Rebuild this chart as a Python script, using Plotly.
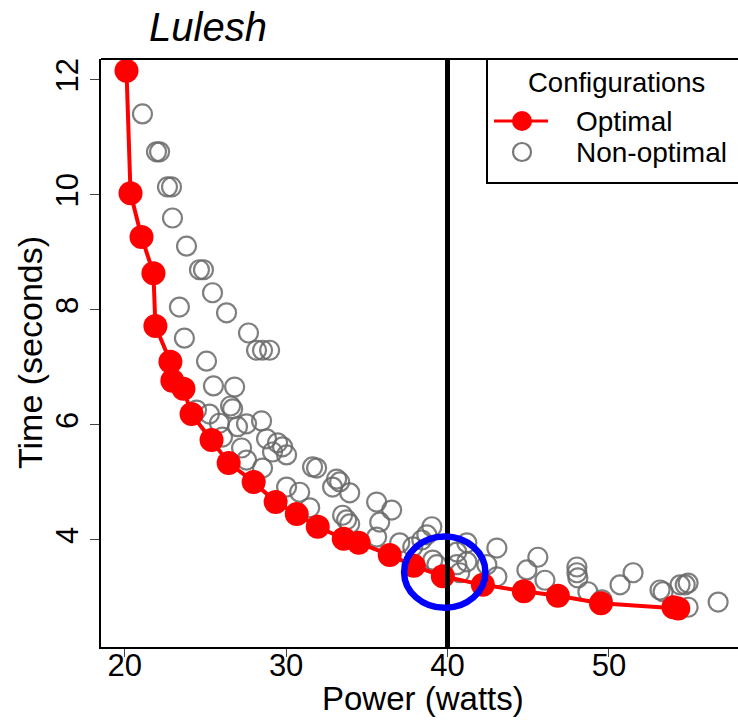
import plotly.graph_objects as go

# ---------------- data ----------------
opt_power = [20.11, 20.36, 21.04, 21.78, 21.90, 22.83, 22.95, 23.64, 24.14, 25.38,
             26.44, 27.99, 29.35, 30.66, 31.96, 33.57, 34.50, 36.42, 37.91, 39.71,
             42.19, 44.73, 46.84, 49.51, 54.00, 54.30]
opt_time = [12.16, 10.03, 9.27, 8.64, 7.72, 7.10, 6.77, 6.63, 6.19, 5.74,
            5.34, 5.01, 4.66, 4.45, 4.23, 4.02, 3.95, 3.74, 3.55, 3.37,
            3.22, 3.11, 3.03, 2.90, 2.83, 2.81]

non_power = [21.10, 21.97, 22.16, 22.65, 22.90, 22.96, 23.83, 24.63, 24.88, 25.44,
             23.39, 26.31, 23.70, 27.67, 28.17, 28.54, 28.98, 25.07, 25.50, 26.81,
             26.56, 26.69, 24.45, 25.25, 25.87, 26.99, 27.55, 28.48, 26.06, 27.24,
             28.79, 29.47, 29.78, 29.16, 30.03, 27.55, 28.54, 31.64, 31.89, 33.13,
             33.32, 32.88, 30.03, 30.84, 31.46, 33.94, 33.50, 33.75, 33.94, 35.61,
             36.54, 35.80, 35.61, 37.04, 37.85, 38.41, 39.03, 38.72, 39.09, 39.34,
             40.58, 41.20, 40.58, 41.20, 40.76, 43.06, 42.44, 43.06, 45.60, 44.92,
             46.04, 48.02, 48.02, 48.08, 48.70, 49.57, 50.69, 51.50, 53.17, 53.36,
             54.41, 54.73, 54.91, 54.91, 56.77]
non_time = [11.41, 10.75, 10.75, 10.14, 10.14, 9.60, 9.11, 8.70, 8.70, 8.30,
            8.05, 7.95, 7.51, 7.60, 7.30, 7.30, 7.30, 7.11, 6.68, 6.66,
            6.33, 6.28, 6.26, 6.19, 6.03, 5.97, 6.02, 6.07, 5.79, 5.60,
            5.76, 5.69, 5.62, 5.53, 5.48, 5.39, 5.25, 5.27, 5.25, 5.06,
            5.01, 4.92, 4.92, 4.83, 4.56, 4.82, 4.43, 4.35, 4.28, 4.66,
            4.52, 4.31, 4.05, 3.95, 3.88, 4.00, 4.23, 4.09, 3.65, 3.57,
            3.79, 3.95, 3.57, 3.62, 3.43, 3.86, 3.57, 3.36, 3.70, 3.48,
            3.30, 3.53, 3.43, 3.34, 3.10, 2.96, 3.22, 3.43, 3.13, 3.10,
            3.22, 3.22, 3.25, 2.83, 2.92]

x_ticks = [20, 30, 40, 50]
y_ticks = [4, 6, 8, 10, 12]
power_cap = 40
highlight_center = (39.83, 3.44)
highlight_radius = (2.52, 0.62)

title_text = "Lulesh"
x_title = "Power (watts)"
y_title = "Time (seconds)"
legend_title = "Configurations"
legend_labels = ["Optimal", "Non-optimal"]

# ---------------- layout geometry (pixels) ----------------
W, H = 738, 720
L, R, T, B = 101, 738, 59, 647
FONT = "Liberation Sans, Arial, Helvetica, sans-serif"


def px_x(p):
    return (p - L) / (R - L)


def px_y(p):
    return (B - p) / (B - T)


fig = go.Figure()

fig.add_trace(go.Scatter(
    x=non_power, y=non_time, mode="markers", name=legend_labels[1],
    marker=dict(symbol="circle-open", size=19, color="rgba(105,105,105,0.85)",
                line=dict(width=2.2)),
    showlegend=False, hoverinfo="x+y"))

fig.add_trace(go.Scatter(
    x=opt_power, y=opt_time, mode="lines+markers", name=legend_labels[0],
    line=dict(color="#ff0000", width=4),
    marker=dict(symbol="circle", size=24, color="#ff0000"),
    showlegend=False, hoverinfo="x+y"))

shapes = []
# power cap line
shapes.append(dict(type="line", xref="x", yref="paper", x0=power_cap, x1=power_cap,
                   y0=0, y1=1, line=dict(color="black", width=5)))
# highlight ellipse
cx, cy = highlight_center
rx, ry = highlight_radius
shapes.append(dict(type="circle", xref="x", yref="y", x0=cx - rx, x1=cx + rx,
                   y0=cy - ry, y1=cy + ry, line=dict(color="#0000ff", width=6.5)))
# top border
shapes.append(dict(type="line", xref="paper", yref="paper", x0=0, x1=1.01, y0=1, y1=1,
                   line=dict(color="black", width=2)))
# legend box
shapes.append(dict(type="rect", xref="paper", yref="paper",
                   x0=px_x(487), x1=px_x(760), y0=px_y(183), y1=px_y(59),
                   line=dict(color="black", width=2), fillcolor="rgba(0,0,0,0)"))
# legend symbols
shapes.append(dict(type="line", xref="paper", yref="paper",
                   x0=px_x(494), x1=px_x(548), y0=px_y(121), y1=px_y(121),
                   line=dict(color="#ff0000", width=3)))
shapes.append(dict(type="circle", xref="paper", yref="paper",
                   x0=px_x(512), x1=px_x(532), y0=px_y(131), y1=px_y(111),
                   line=dict(color="#ff0000", width=0), fillcolor="#ff0000"))
shapes.append(dict(type="circle", xref="paper", yref="paper",
                   x0=px_x(513), x1=px_x(531), y0=px_y(161), y1=px_y(143),
                   line=dict(color="rgba(105,105,105,0.9)", width=2.2)))

annotations = [
    dict(text=title_text, xref="paper", yref="paper", x=px_x(208), y=px_y(27),
         xanchor="center", yanchor="middle", showarrow=False,
         font=dict(family=FONT, size=40, color="black", style="italic")),
    dict(text=x_title, xref="paper", yref="paper", x=px_x(423), y=px_y(719),
         xanchor="center", yanchor="bottom", showarrow=False,
         font=dict(family=FONT, size=33, color="black")),
    dict(text=y_title, xref="paper", yref="paper", x=px_x(30), y=px_y(353),
         xanchor="center", yanchor="middle", showarrow=False, textangle=-90,
         font=dict(family=FONT, size=34, color="black")),
    dict(text=legend_title, xref="paper", yref="paper", x=px_x(616), y=px_y(82),
         xanchor="center", yanchor="middle", showarrow=False,
         font=dict(family=FONT, size=27.5, color="black")),
    dict(text=legend_labels[0], xref="paper", yref="paper", x=px_x(574), y=px_y(122),
         xanchor="left", yanchor="middle", showarrow=False,
         font=dict(family=FONT, size=28, color="black")),
    dict(text=legend_labels[1], xref="paper", yref="paper", x=px_x(574), y=px_y(153),
         xanchor="left", yanchor="middle", showarrow=False,
         font=dict(family=FONT, size=28, color="black")),
]

fig.update_layout(
    width=W, height=H,
    margin=dict(l=L, r=W - R, t=T, b=H - B, pad=0, autoexpand=False),
    paper_bgcolor="white", plot_bgcolor="white",
    font=dict(family=FONT, color="black"),
    showlegend=False,
    shapes=shapes, annotations=annotations,
    xaxis=dict(range=[18.53, 58.0], tickvals=x_ticks, ticks="outside", ticklen=8,
               tickwidth=1, tickcolor="#444", showgrid=False, zeroline=False,
               showline=True, linecolor="black", linewidth=2, automargin=False,
               ticklabelstandoff=-18,
               tickfont=dict(family=FONT, size=31, color="black")),
    yaxis=dict(range=[2.139, 12.365], tickvals=y_ticks, ticks="outside", ticklen=9,
               tickwidth=1, tickcolor="#444", showgrid=False, zeroline=False,
               showline=True, linecolor="black", linewidth=2, tickangle=-90,
               automargin=False,
               tickfont=dict(family=FONT, size=31, color="black")),
)

fig.write_html(
    "out.html",
    config={"displayModeBar": False},
    post_script="document.body.style.margin='0';document.body.style.overflow='hidden';",
)
